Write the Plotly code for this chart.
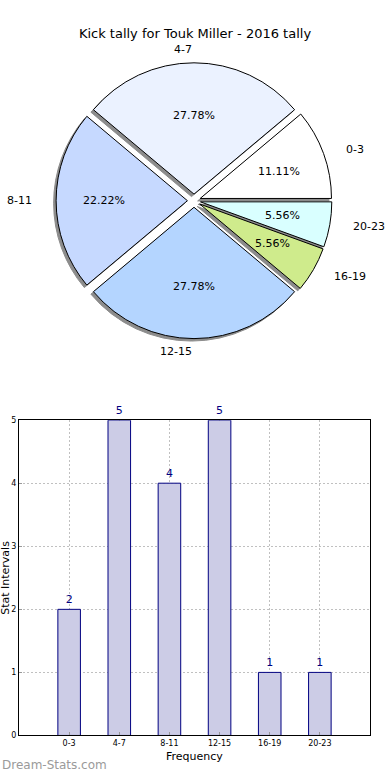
import math
import plotly.graph_objects as go

# ---- data ----
categories = ["0-3", "4-7", "8-11", "12-15", "16-19", "20-23"]
counts = [2, 5, 4, 5, 1, 1]
slice_colors = ["#ffffff", "#ebf2ff", "#c6d9ff", "#b4d5ff", "#cfeb8c", "#d9ffff"]
title_text = "Kick tally for Touk Miller - 2016 tally"
y_ticks = [0, 1, 2, 3, 4, 5]

W, H = 390, 780
FONT = "DejaVu Sans"

# pie geometry (pixels)
cx, cy = 194.0, 199.0
explode = 0.05
r_tot = 139.5
rx, ry = 139.0, r_tot / (1 + explode)

total = sum(counts)
# plotly (counterclockwise): first slice spans [rotation, rotation+a0] clockwise from 12 o'clock
rotation = 90 - 360.0 * counts[0] / total


def px(x):
    return x / W


def py(y):
    return 1 - y / H


fig = go.Figure()

# shadow pie
sh_dx, sh_dy = -2.5, 2.5
fig.add_trace(go.Pie(
    labels=categories, values=counts, sort=False, direction="counterclockwise",
    rotation=rotation, pull=[explode] * len(counts), textinfo="none", hoverinfo="skip",
    marker=dict(colors=["#8c8c8c"] * len(counts), line=dict(color="#8c8c8c", width=1)),
    domain=dict(x=[px(cx + sh_dx - r_tot), px(cx + sh_dx + r_tot)],
                y=[py(cy + sh_dy + r_tot), py(cy + sh_dy - r_tot)]),
    showlegend=False,
))

# main pie
fig.add_trace(go.Pie(
    labels=categories, values=counts, sort=False, direction="counterclockwise",
    rotation=rotation, pull=[explode] * len(counts), textinfo="none",
    marker=dict(colors=slice_colors, line=dict(color="black", width=1)),
    domain=dict(x=[px(cx - r_tot), px(cx + r_tot)],
                y=[py(cy + r_tot), py(cy - r_tot)]),
    showlegend=False,
))

annotations = []
start = 0.0
for lab, v in zip(categories, counts):
    ang = 360.0 * v / total
    mid = math.radians(start + ang / 2)
    start += ang
    c, s = math.cos(mid), math.sin(mid)
    # label
    lx = cx + (1.1 + explode) * rx * c
    ly = cy - (1.1 + explode) * ry * s
    annotations.append(dict(
        x=px(lx), y=py(ly), xref="paper", yref="paper", text=lab, showarrow=False,
        xanchor="left" if c > 1e-9 else "right",
        yanchor="middle", font=dict(family=FONT, size=11, color="black")))
    # percent
    tx = cx + (0.6 + explode) * rx * c
    ty = cy - (0.6 + explode) * ry * s
    annotations.append(dict(
        x=px(tx), y=py(ty), xref="paper", yref="paper",
        text="%.2f%%" % (100.0 * v / total), showarrow=False,
        xanchor="center", yanchor="middle",
        font=dict(family=FONT, size=11, color="black")))

# bar chart
fig.add_trace(go.Bar(
    x=categories, y=counts, width=0.45,
    marker=dict(color="rgb(204,204,230)", line=dict(color="#000080", width=1)),
    text=[str(v) for v in counts], textposition="outside", cliponaxis=False,
    textfont=dict(family=FONT, size=11, color="#000080"),
    xaxis="x", yaxis="y", showlegend=False,
))

ax_top, ax_bot, ax_l, ax_r = 421, 740, 19, 370

annotations += [
    dict(x=px(6), y=py((ax_top + ax_bot) / 2), xref="paper", yref="paper",
         text="Stat Intervals", textangle=-90, showarrow=False,
         xanchor="center", yanchor="middle",
         font=dict(family=FONT, size=11, color="black")),
    dict(x=px((ax_l + ax_r) / 2), y=py(761), xref="paper", yref="paper",
         text="Frequency", showarrow=False, xanchor="center", yanchor="middle",
         font=dict(family=FONT, size=11, color="black")),
    dict(x=0, y=py(770), xref="paper", yref="paper",
         text="Dream-Stats.com", showarrow=False, xanchor="left", yanchor="middle",
         font=dict(family=FONT, size=12, color="#9a9a9a")),
]

grid = dict(showgrid=True, gridcolor="#c0c0c0", griddash="2px,2px", gridwidth=1)

fig.update_layout(
    width=W, height=H,
    margin=dict(l=0, r=0, t=0, b=0),
    paper_bgcolor="white", plot_bgcolor="white",
    title=dict(text=title_text, x=px(195), y=py(30), xanchor="center", yanchor="middle",
               xref="paper", yref="paper",
               font=dict(family=FONT, size=13, color="black")),
    font=dict(family=FONT),
    annotations=annotations,
    xaxis=dict(domain=[px(ax_l), px(ax_r)], range=[-1, 6], anchor="y",
               showline=True, linecolor="black", linewidth=1, mirror=True,
               ticks="inside", ticklen=3, tickcolor="#999999",
               tickfont=dict(family=FONT, size=8, color="black"), zeroline=False,
               fixedrange=True, **grid),
    yaxis=dict(domain=[py(ax_bot), py(ax_top)], range=[0, 5], anchor="x",
               tickvals=y_ticks,
               showline=True, linecolor="black", linewidth=1, mirror=True,
               ticks="inside", ticklen=3, tickcolor="#999999",
               tickfont=dict(family=FONT, size=8, color="black"), zeroline=False,
               fixedrange=True, **grid),
)

fig.write_html("out.html", config={"displayModeBar": False},
               post_script="document.body.style.margin='0';")
